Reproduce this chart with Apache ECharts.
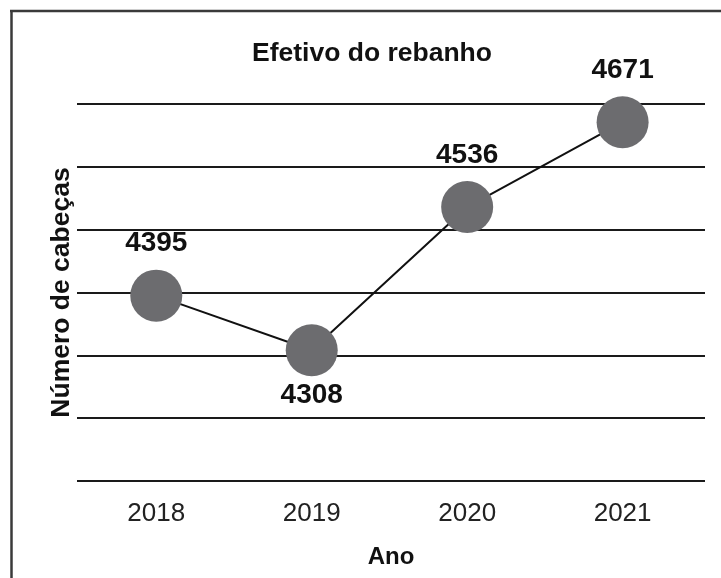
<!DOCTYPE html>
<html>
<head>
<meta charset="utf-8">
<script src="https://cdn.jsdelivr.net/npm/echarts@6/dist/echarts.min.js"></script>
<style>
html,body{margin:0;padding:0;background:#fff;}
#chart{width:721px;height:578px;}
</style>
</head>
<body>
<div id="chart"></div>
<script>
const titleText = "Efetivo do rebanho";
const xName = "Ano";
const yName = "Número de cabeças";
const years = [2018, 2019, 2020, 2021];
const heads = [4395, 4308, 4536, 4671];
const labelPos = ["top", "bottom", "top", "top"];

const chart = echarts.init(document.getElementById('chart'), null, {renderer: 'canvas'});
const FONT = '"Liberation Sans", Arial, Helvetica, sans-serif';

const seriesData = years.map((y, i) => ({
  value: [y, heads[i]],
  label: {
    position: labelPos[i],
    distance: labelPos[i] === 'top' ? 12 : 5
  }
}));

chart.setOption({
  backgroundColor: '#ffffff',
  animation: false,
  title: {
    text: titleText,
    left: 247,
    top: 35,
    textStyle: {fontFamily: FONT, fontSize: 26.5, fontWeight: 'bold', color: '#111'}
  },
  grid: {left: 77, right: 16, top: 104, bottom: 97, containLabel: false},
  xAxis: {
    type: 'value',
    min: 2017.49,
    max: 2021.53,
    name: xName,
    nameLocation: 'middle',
    nameGap: 64,
    nameTextStyle: {fontFamily: FONT, fontSize: 24, fontWeight: 'bold', color: '#111'},
    axisLine: {show: false},
    axisTick: {show: false},
    splitLine: {show: false},
    axisLabel: {
      customValues: years,
      margin: 20,
      fontFamily: FONT,
      fontSize: 26,
      color: '#222',
      formatter: v => String(v)
    }
  },
  yAxis: {
    type: 'value',
    min: 4100,
    max: 4700,
    interval: 100,
    name: yName,
    nameLocation: 'middle',
    nameRotate: 90,
    nameGap: 2,
    nameTextStyle: {fontFamily: FONT, fontSize: 26.5, fontWeight: 'bold', color: '#111'},
    axisLine: {show: false},
    axisTick: {show: false},
    axisLabel: {show: false},
    splitLine: {show: true, lineStyle: {color: '#1a1a1a', width: 2}}
  },
  graphic: [
    {type: 'line', shape: {x1: 10, y1: 11, x2: 721, y2: 11}, style: {stroke: '#3a3a3a', lineWidth: 2.5}},
    {type: 'line', shape: {x1: 11.5, y1: 10, x2: 11.5, y2: 578}, style: {stroke: '#3a3a3a', lineWidth: 2.5}}
  ],
  series: [{
    type: 'line',
    data: seriesData,
    symbol: 'circle',
    symbolSize: 52,
    lineStyle: {color: '#111', width: 2},
    itemStyle: {color: '#6c6c6f', borderWidth: 0},
    label: {
      show: true,
      fontFamily: FONT,
      fontSize: 28,
      fontWeight: 'bold',
      color: '#111',
      formatter: p => String(p.value[1])
    },
    z: 3
  }]
});
</script>
</body>
</html>
